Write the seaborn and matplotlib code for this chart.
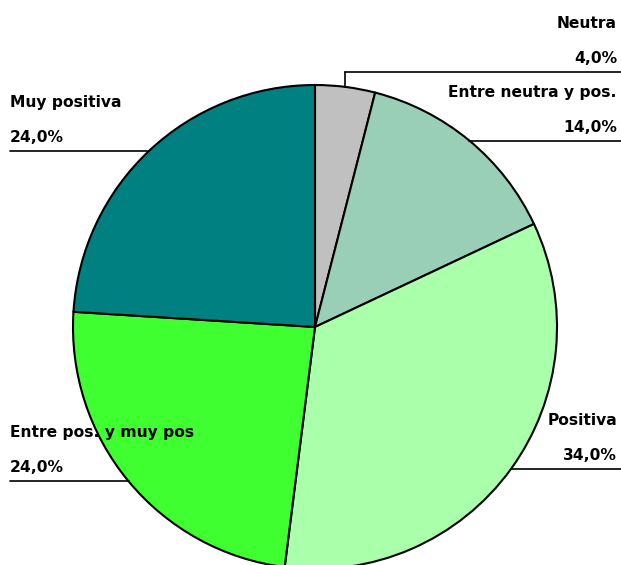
import numpy as np
import matplotlib
matplotlib.use("Agg")
import matplotlib.pyplot as plt
import seaborn as sns

categories = ["Neutra", "Entre neutra y pos.", "Positiva", "Entre pos. y muy pos", "Muy positiva"]
values = [4.0, 14.0, 34.0, 24.0, 24.0]
colors = ["#C0C0C0", "#99CFB6", "#AAFFAA", "#40FF30", "#008080"]
label_side = ["right", "right", "right", "left", "left"]

sns.set_theme(style="white")
plt.rcParams["font.family"] = ["DejaVu Sans"]

W, H = 621, 565
fig = plt.figure(figsize=(W / 100, H / 100), dpi=100)
ax = fig.add_axes([0, 0, 1, 1])

cx, cy, r = 315, H - 327, 242
wedges, _ = ax.pie(values, colors=colors, startangle=90, counterclock=False,
                   center=(cx, cy), radius=r, frame=True,
                   wedgeprops=dict(edgecolor="black", linewidth=1.5))
ax.set_xlim(0, W)
ax.set_ylim(0, H)
ax.set_aspect("equal")
ax.axis("off")

total = sum(values)
cum = np.cumsum([0] + values[:-1])
fs = 11.2
for name, v, c0, side in zip(categories, values, cum, label_side):
    frac = (c0 + v / 2) / total
    ang = np.deg2rad(90 - 360 * frac)
    ex, ey = cx + r * np.cos(ang), cy + r * np.sin(ang)
    line_y = ey
    if name == "Neutra":
        line_y = H - 72
        ax.plot([ex, ex], [ey, line_y], color="black", lw=1.2, zorder=5)
    if side == "right":
        ax.plot([ex, W], [line_y, line_y], color="black", lw=1.2, zorder=5)
        tx, ha = W - 4, "right"
    else:
        ax.plot([10, ex], [line_y, line_y], color="black", lw=1.2, zorder=5)
        tx, ha = 10, "left"
    pct = f"{v:.1f}%".replace(".", ",")
    ax.text(tx, line_y + 9, pct, ha=ha, va="baseline", fontsize=fs,
            fontweight="bold", color="black", zorder=6)
    ax.text(tx, line_y + 44, name, ha=ha, va="baseline", fontsize=fs,
            fontweight="bold", color="black", zorder=6)

fig.savefig("out.png", dpi=100)
